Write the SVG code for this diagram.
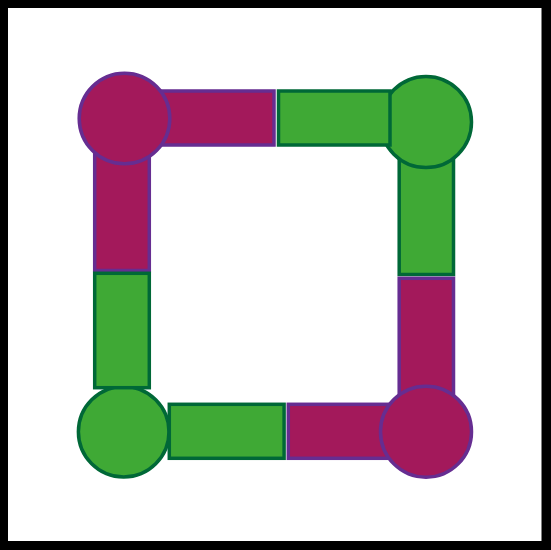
<svg xmlns="http://www.w3.org/2000/svg" width="551" height="550" viewBox="0 0 551 550">
<style>
.m{fill:#a3195b;stroke:#662d91;stroke-width:3.5}
.g{fill:#3fa935;stroke:#006837;stroke-width:3.5}
</style>
<rect x="0" y="0" width="551" height="550" fill="#000"/>
<rect x="8" y="8" width="533.5" height="533" fill="#fff"/>
<g id="connectors">
<rect id="right-green" class="g" x="399.2" y="150" width="54.3" height="124.5"/>
<rect id="right-magenta" class="m" x="399.2" y="278.3" width="54.3" height="125"/>
<rect id="bottom-magenta" class="m" x="288.3" y="404.3" width="105" height="54"/>
<rect id="top-magenta" class="m" x="155" y="91" width="119" height="54"/>
<rect id="left-magenta" class="m" x="94.7" y="150" width="54.6" height="120.5"/>
</g>
<g id="node-tl"><circle class="m" cx="124.5" cy="118.5" r="45.3"/></g>
<g id="node-tr"><circle class="g" cx="426" cy="122" r="45.5"/></g>
<g id="node-bl"><circle class="g" cx="123.7" cy="431.8" r="45.3"/></g>
<g id="node-br"><circle class="m" cx="426" cy="431.7" r="45.5"/></g>
<g id="connectors-top">
<rect id="top-green" class="g" x="278.5" y="91" width="111.5" height="54"/>
<rect id="left-green" class="g" x="94.7" y="273.3" width="54.6" height="114.4"/>
<rect id="bottom-green" class="g" x="169.3" y="404.3" width="114.8" height="54"/>
</g>
</svg>
